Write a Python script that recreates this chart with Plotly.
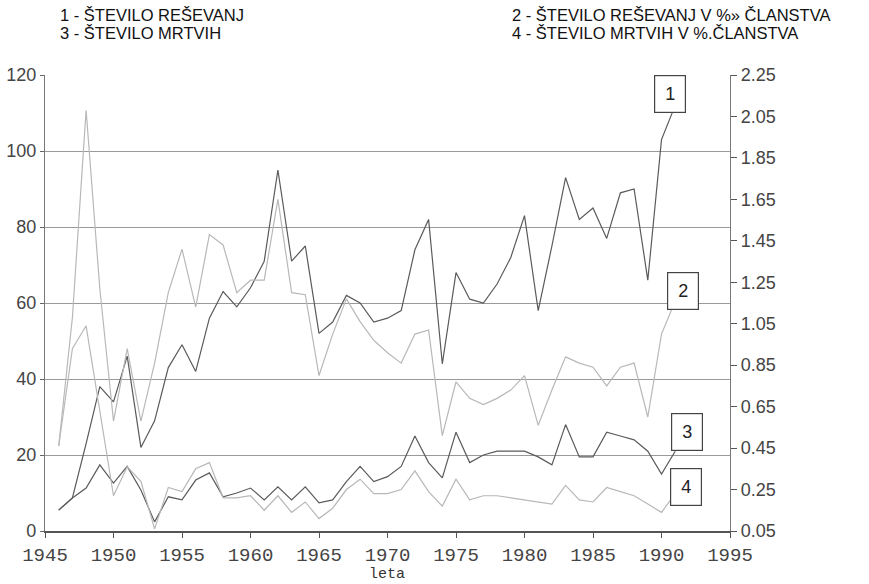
import plotly.graph_objects as go

years = list(range(1946, 1992))

# 1 - number of rescues (left axis)
s1_rescues = [5.5, 8.7, 23, 38, 34, 46, 22, 29, 43, 49, 42, 56, 63, 59, 64, 71, 95, 71, 75, 52,
              55, 62, 60, 55, 56, 58, 74, 82, 44, 68, 61, 60, 65, 72, 83, 58, 75, 93, 82, 85,
              77, 89, 90, 66, 103, 112]
# 2 - rescues in % of membership (right axis)
s2_rescues_pct = [0.46, 1.08, 2.08, 1.22, 0.58, 0.93, 0.58, 0.86, 1.20, 1.41, 1.13, 1.48, 1.43, 1.20,
                  1.26, 1.26, 1.65, 1.20, 1.19, 0.80, 1.00, 1.17, 1.06, 0.97, 0.91, 0.86, 1.00, 1.02,
                  0.51, 0.77, 0.69, 0.66, 0.69, 0.73, 0.80, 0.56, 0.73, 0.89, 0.86, 0.84, 0.75, 0.84,
                  0.86, 0.60, 1.00, 1.16]
# 3 - number of dead (left axis)
s3_dead = [5.5, 8.7, 11.3, 17.4, 12.6, 17, 10.8, 2.4, 9, 8.2, 13.4, 15.3, 9, 10, 11.3, 8.2, 11.6,
           8.2, 11.6, 7.4, 8.2, 13, 17, 13, 14.3, 17, 25, 18, 14, 26, 18, 20, 21, 21, 21, 19.5,
           17.4, 28, 19.5, 19.5, 26, 25, 24, 21, 15, 21]
# 4 - dead in % of membership (right axis)
s4_dead_pct = [0.46, 0.93, 1.04, 0.64, 0.22, 0.36, 0.29, 0.06, 0.26, 0.24, 0.35, 0.38, 0.21, 0.21,
               0.22, 0.15, 0.22, 0.14, 0.19, 0.11, 0.16, 0.25, 0.30, 0.23, 0.23, 0.25, 0.34, 0.24,
               0.17, 0.30, 0.20, 0.22, 0.22, 0.21, 0.20, 0.19, 0.18, 0.27, 0.20, 0.19, 0.26, 0.24,
               0.22, 0.18, 0.14, 0.23]

x_ticks = [1945, 1950, 1955, 1960, 1965, 1970, 1975, 1980, 1985, 1990, 1995]
left_ticks = [0, 20, 40, 60, 80, 100, 120]
right_ticks = [0.05, 0.25, 0.45, 0.65, 0.85, 1.05, 1.25, 1.45, 1.65, 1.85, 2.05, 2.25]
right_tick_labels = ["0.05", "0.25", "0.45", "0.65", "0.85", "1.05", "1.25", "1.45",
                     "1.65", "1.85", "2.05", "2.25"]

legend_left = ["1 - ŠTEVILO REŠEVANJ", "3 - ŠTEVILO MRTVIH"]
legend_right = ["2 - ŠTEVILO REŠEVANJ V %» ČLANSTVA", "4 - ŠTEVILO MRTVIH V %.ČLANSTVA"]
x_title = "leta"

DARK = "#5a5a5a"
LIGHT = "#b8b8b8"

W, H = 869, 584
L, R, T, B = 45, 730, 75, 531

fig = go.Figure()
fig.add_trace(go.Scatter(x=years, y=s2_rescues_pct, yaxis="y2", mode="lines",
                         line=dict(color=LIGHT, width=1.2), name="2"))
fig.add_trace(go.Scatter(x=years, y=s4_dead_pct, yaxis="y2", mode="lines",
                         line=dict(color=LIGHT, width=1.2), name="4"))
fig.add_trace(go.Scatter(x=years, y=s1_rescues, mode="lines",
                         line=dict(color=DARK, width=1.2), name="1"))
fig.add_trace(go.Scatter(x=years, y=s3_dead, mode="lines",
                         line=dict(color=DARK, width=1.2), name="3"))


def px(xp, yp):
    # window pixel -> paper coords
    return (xp - L) / (R - L), (B - yp) / (B - T)


annotations = []
for i, txt in enumerate(legend_left):
    xx, yy = px(58, 15 + 18 * i)
    annotations.append(dict(text=txt, x=xx, y=yy, xref="paper", yref="paper",
                            xanchor="left", yanchor="middle", showarrow=False,
                            font=dict(family="Liberation Sans, Arial", size=16.5, color="#111")))
for i, txt in enumerate(legend_right):
    xx, yy = px(510, 15 + 18 * i)
    annotations.append(dict(text=txt, x=xx, y=yy, xref="paper", yref="paper",
                            xanchor="left", yanchor="middle", showarrow=False,
                            font=dict(family="Liberation Sans, Arial", size=16.5, color="#111")))

boxes = [("1", 670, 94), ("2", 683, 291), ("3", 687, 432), ("4", 686, 487)]
for lab, bx, by in boxes:
    xx, yy = px(bx, by)
    annotations.append(dict(text=lab, x=xx, y=yy, xref="paper", yref="paper",
                            xanchor="center", yanchor="middle", showarrow=False,
                            width=28, height=34, bgcolor="white", bordercolor="#444",
                            borderwidth=1.2, borderpad=1,
                            font=dict(family="Liberation Sans, Arial", size=18, color="#222")))

xx, yy = px(387, 574)
annotations.append(dict(text=x_title, x=xx, y=yy, xref="paper", yref="paper",
                        xanchor="center", yanchor="middle", showarrow=False,
                        font=dict(family="Liberation Mono, DejaVu Sans Mono", size=15, color="#333")))

fig.update_layout(
    width=W, height=H,
    margin=dict(l=L, r=W - R, t=T, b=H - B, pad=0, autoexpand=False),
    paper_bgcolor="white", plot_bgcolor="white",
    showlegend=False,
    xaxis=dict(range=[1945, 1995], tickvals=x_ticks, ticktext=[str(v) for v in x_ticks],
               automargin=False,
               showgrid=False, zeroline=False, showline=True, linecolor="#555", linewidth=1.5,
               ticks="outside", ticklen=5, tickcolor="#555",
               tickfont=dict(family="Liberation Mono, DejaVu Sans Mono", size=19, color="#444")),
    yaxis=dict(range=[0, 120], tickvals=left_ticks, ticktext=[str(v) for v in left_ticks],
               automargin=False,
               showgrid=True, gridcolor="#9a9a9a", gridwidth=1.2, zeroline=False,
               showline=True, linecolor="#777", linewidth=1.2,
               ticks="outside", ticklen=4, tickcolor="#666",
               tickfont=dict(family="Liberation Sans, Arial", size=18, color="#444")),
    yaxis2=dict(range=[0.05, 2.25], tickvals=right_ticks, ticktext=right_tick_labels,
                automargin=False,
                overlaying="y", side="right", showgrid=False, zeroline=False,
                showline=True, linecolor="#777", linewidth=1.2,
                ticks="outside", ticklen=6, tickcolor="#555",
                tickfont=dict(family="Liberation Sans, Arial", size=18, color="#444")),
    annotations=annotations,
)

fig.write_html("out.html", config={"displayModeBar": False},
               post_script="document.body.style.margin='0';")
